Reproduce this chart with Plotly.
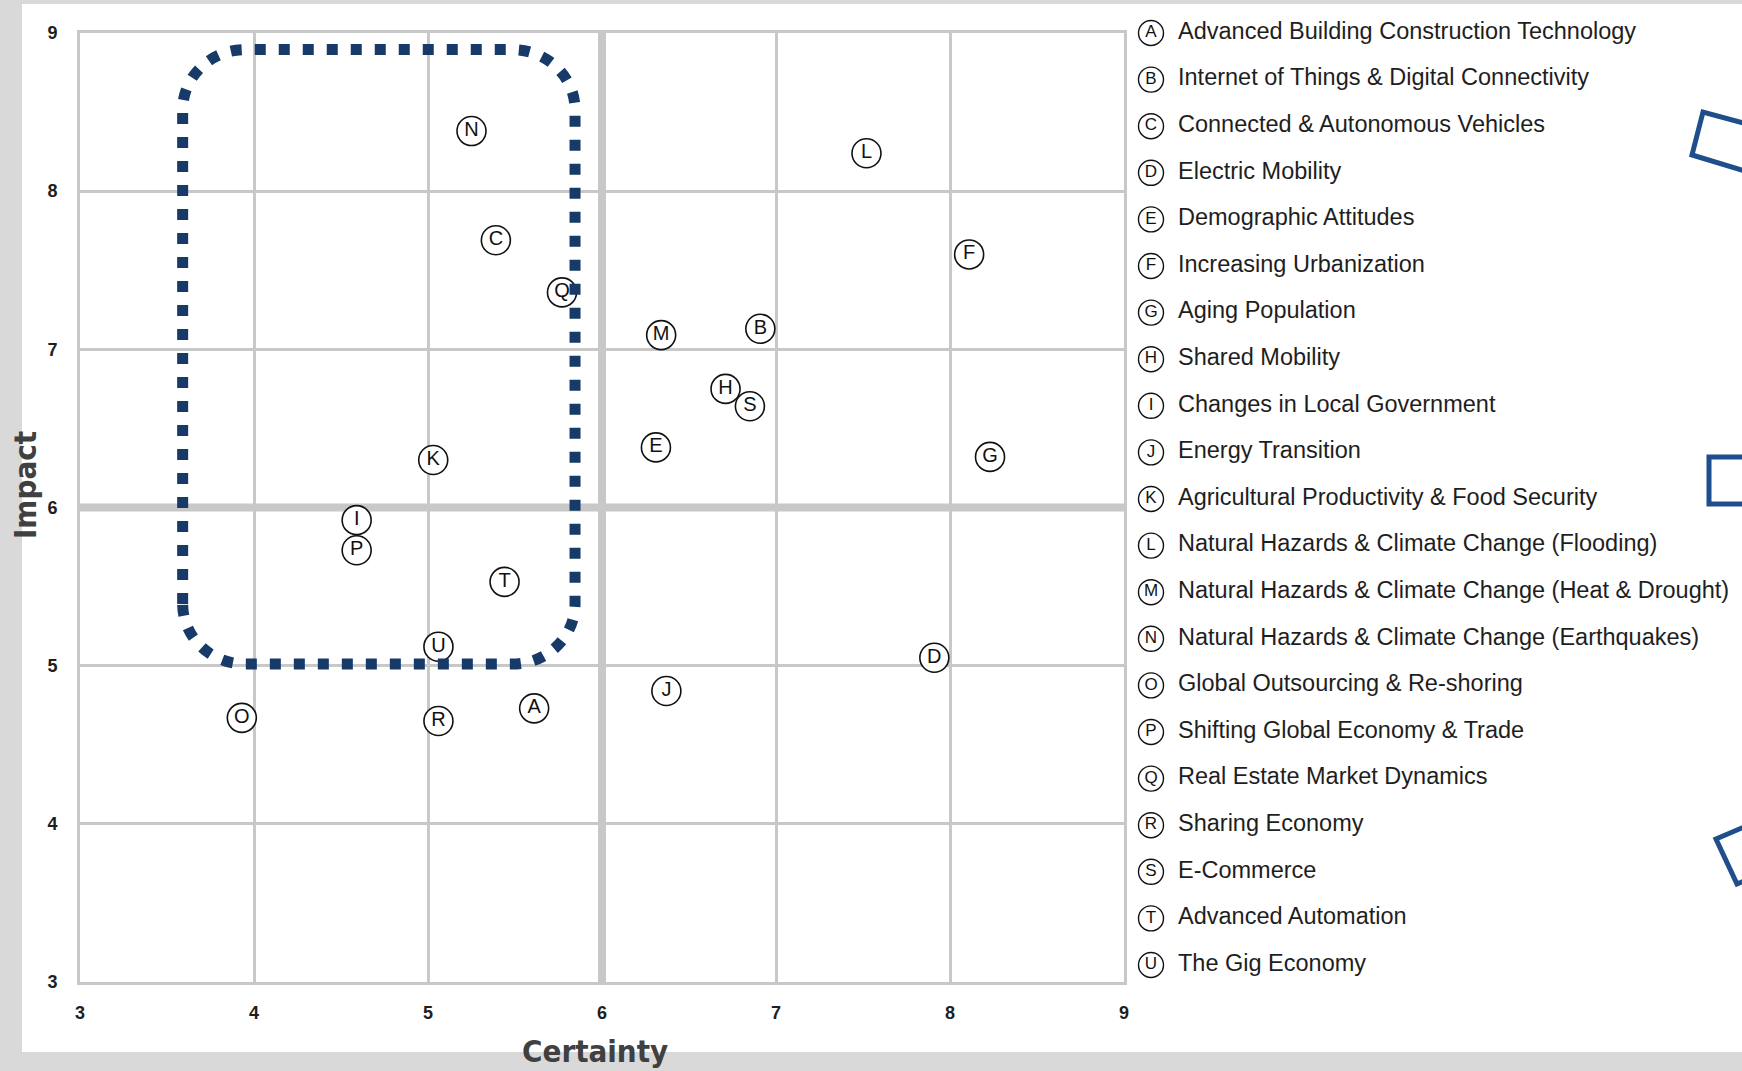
import plotly.graph_objects as go

W, H = 1742, 1071

# ---------------- data ----------------
letters = list("ABCDEFGHIJKLMNOPQRSTU")
names = [
    "Advanced Building Construction Technology",
    "Internet of Things & Digital Connectivity",
    "Connected & Autonomous Vehicles",
    "Electric Mobility",
    "Demographic Attitudes",
    "Increasing Urbanization",
    "Aging Population",
    "Shared Mobility",
    "Changes in Local Government",
    "Energy Transition",
    "Agricultural Productivity & Food Security",
    "Natural Hazards & Climate Change (Flooding)",
    "Natural Hazards & Climate Change (Heat & Drought)",
    "Natural Hazards & Climate Change (Earthquakes)",
    "Global Outsourcing & Re-shoring",
    "Shifting Global Economy & Trade",
    "Real Estate Market Dynamics",
    "Sharing Economy",
    "E-Commerce",
    "Advanced Automation",
    "The Gig Economy",
]
certainty = [5.61, 6.91, 5.39, 7.91, 6.31, 8.11, 8.23, 6.71, 4.59, 6.37, 5.03,
             7.52, 6.34, 5.25, 3.93, 4.59, 5.77, 5.06, 6.85, 5.44, 5.06]
impact = [4.73, 7.13, 7.69, 5.05, 6.38, 7.60, 6.32, 6.75, 5.92, 4.84, 6.30,
          8.24, 7.09, 8.38, 4.67, 5.73, 7.36, 4.65, 6.64, 5.53, 5.12]
tick_vals = [3, 4, 5, 6, 7, 8, 9]
tick_text = ["3", "4", "5", "6", "7", "8", "9"]
focus_x = [3.59, 5.845]   # highlighted region (certainty)
focus_y = [5.01, 8.895]   # highlighted region (impact)
divider = 6               # quadrant dividers

# ---------------- helpers (pixel -> paper) ----------------
def fx(p):
    return p / W

def fy(p):
    return 1 - p / H

GRID = "#c8c8c8"
NAVY = "#173a69"
BLUE = "#1f4e8c"
TXT = "#1e1e1e"
LAB = "#404040"
FONT = "Liberation Sans, Arial, sans-serif"

fig = go.Figure()

# main scatter
fig.add_trace(go.Scatter(
    x=certainty, y=impact, text=letters, mode="markers+text",
    textposition="middle center",
    textfont=dict(family=FONT, size=20, color="#111111"),
    marker=dict(symbol="circle", size=29, color="white",
                line=dict(color="#111111", width=1.6)),
    hovertext=names, hoverinfo="text", showlegend=False,
    xaxis="x", yaxis="y",
))

# legend list (on hidden pixel-scaled axes)
row0, step = 33, 46.6
rows = [row0 + i * step for i in range(len(letters))]
fig.add_trace(go.Scatter(
    x=[1151] * len(letters), y=rows, text=letters, mode="markers+text",
    textposition="middle center",
    textfont=dict(family=FONT, size=17, color="#111111"),
    marker=dict(symbol="circle", size=25, color="white",
                line=dict(color="#111111", width=1.4)),
    hoverinfo="skip", showlegend=False, xaxis="x2", yaxis="y2",
))
fig.add_trace(go.Scatter(
    x=[1178] * len(names), y=rows, text=names, mode="text",
    textposition="middle right",
    textfont=dict(family=FONT, size=23.5, color=TXT),
    hoverinfo="skip", showlegend=False, xaxis="x2", yaxis="y2",
))

axis_common = dict(
    range=[3, 9], tickvals=tick_vals, ticktext=tick_text,
    showgrid=True, gridcolor=GRID, gridwidth=2.5,
    showline=True, linecolor=GRID, linewidth=3, mirror=True,
    zeroline=False, ticks="outside", tickcolor="rgba(0,0,0,0)",
    tickfont=dict(family=FONT, size=18, color=TXT, weight="bold"),
    automargin=False, fixedrange=True,
)

fig.update_layout(
    template="none",
    width=W, height=H, autosize=False,
    margin=dict(l=0, r=0, t=0, b=0, pad=0),
    paper_bgcolor="#d9d9d9",
    plot_bgcolor="rgba(0,0,0,0)",
    xaxis=dict(axis_common, domain=[fx(80), fx(1124)], ticklen=12, anchor="y"),
    yaxis=dict(axis_common, domain=[fy(982), fy(33)], ticklen=16, anchor="x"),
    xaxis2=dict(domain=[fx(1100), 1], range=[1100, W], visible=False,
                anchor="y2", fixedrange=True),
    yaxis2=dict(domain=[0, 1], range=[H, 0], visible=False,
                anchor="x2", fixedrange=True),
    showlegend=False,
)

shapes = []
# white panel
shapes.append(dict(type="rect", xref="paper", yref="paper",
                   x0=fx(22), x1=1.01, y0=fy(1052), y1=fy(4),
                   fillcolor="white", line=dict(width=0), layer="below"))
# quadrant dividers
shapes.append(dict(type="line", xref="x", yref="y", x0=divider, x1=divider,
                   y0=3, y1=9, line=dict(color=GRID, width=8), layer="between"))
shapes.append(dict(type="line", xref="x", yref="y", x0=3, x1=9,
                   y0=divider, y1=divider, line=dict(color=GRID, width=8),
                   layer="between"))

# rounded dotted focus rectangle
xl, xr = focus_x
yb, yt = focus_y
rx, ry = 0.36, 0.38
k = 0.5523
path = (
    f"M {xl},{yb + ry} L {xl},{yt - ry} "
    f"C {xl},{yt - ry + k * ry} {xl + rx - k * rx},{yt} {xl + rx},{yt} "
    f"L {xr - rx},{yt} "
    f"C {xr - rx + k * rx},{yt} {xr},{yt - ry + k * ry} {xr},{yt - ry} "
    f"L {xr},{yb + ry} "
    f"C {xr},{yb + ry - k * ry} {xr - rx + k * rx},{yb} {xr - rx},{yb} "
    f"L {xl + rx},{yb} "
    f"C {xl + rx - k * rx},{yb} {xl},{yb + ry - k * ry} {xl},{yb + ry} Z"
)
shapes.append(dict(type="path", xref="x", yref="y", path=path,
                   line=dict(color=NAVY, width=11, dash="11px,13px"),
                   fillcolor="rgba(0,0,0,0)", layer="above"))

# partial blue outlines at the right edge
def ppath(pts):
    return "M " + " L ".join(f"{fx(a)},{fy(b)}" for a, b in pts)

for pts in [
    [(1765, 129), (1703, 112), (1692, 155), (1765, 177)],
    [(1765, 457), (1709, 457), (1709, 504), (1765, 504)],
    [(1765, 818), (1716, 839), (1737, 884), (1765, 872)],
]:
    shapes.append(dict(type="path", xref="paper", yref="paper", path=ppath(pts),
                       line=dict(color=BLUE, width=5), layer="above"))

fig.update_layout(shapes=shapes)

# axis titles
fig.add_annotation(text="Impact", xref="paper", yref="paper",
                   x=fx(25), y=fy(485), textangle=-90, showarrow=False,
                   xanchor="center", yanchor="middle",
                   font=dict(family="DejaVu Sans Condensed, DejaVu Sans",
                             size=31, color=LAB, weight="bold"))
fig.add_annotation(text="Certainty", xref="paper", yref="paper",
                   x=fx(595), y=fy(1051), showarrow=False,
                   xanchor="center", yanchor="middle",
                   font=dict(family="DejaVu Sans Condensed, DejaVu Sans",
                             size=31, color=LAB, weight="bold"))

fig.write_html("out.html", config={"displayModeBar": False},
               post_script="document.body.style.margin='0';document.body.style.overflow='hidden';")
